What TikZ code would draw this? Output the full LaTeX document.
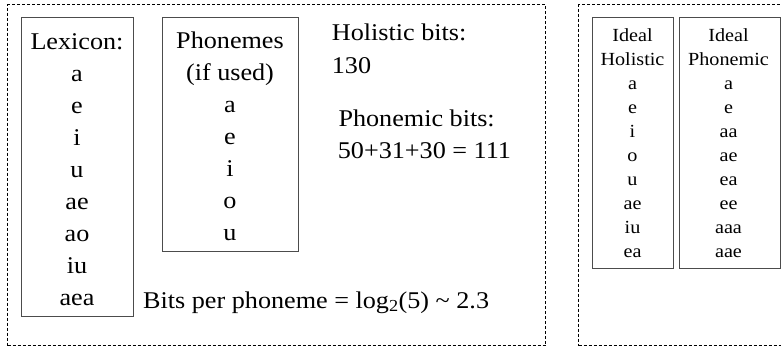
\documentclass[tikz,border=0pt]{standalone}
\usepackage{fontspec}
\setmainfont{Liberation Serif}[FakeStretch=1.09]
\begin{document}
\begin{tikzpicture}[x=1pt,y=-1pt,
  panel/.style={draw=black, dash pattern=on 3pt off 2pt, line width=0.7pt, inner sep=0pt, anchor=north west},
  colbox/.style={draw=black!70, line width=0.9pt, inner sep=0pt, anchor=north west},
  big/.style={font=\fontsize{24}{28}\selectfont, inner sep=0pt},
  small/.style={font=\fontsize{18.5}{22}\selectfont, inner sep=0pt}]
\useasboundingbox (0,0) rectangle (781,347);
% panels
\node[panel, minimum width=538pt, minimum height=341pt] (leftpanel) at (7.3,4.3) {};
\node[panel, minimum width=230pt, minimum height=341pt] (rightpanel) at (578.3,4.3) {};
% column boxes left
\node[colbox, minimum width=112pt, minimum height=299pt] (lexbox) at (21,17) {};
\node[colbox, minimum width=136pt, minimum height=234pt] (phbox) at (162,17) {};
% column boxes right
\node[colbox, minimum width=81.6pt, minimum height=250.4pt] (holbox) at (591.7,17.3) {};
\node[colbox, minimum width=101pt, minimum height=250.4pt] (phonbox) at (679,17.3) {};
% lexicon
\foreach \t [count=\i] in {Lexicon:,a,e,i,u,ae,ao,iu,aea}
  \node[big, anchor=base] (lex\i) at (77,{49.3+(\i-1)*32}) {\t};
% phonemes
\foreach \t [count=\i] in {Phonemes,{(if used)},a,e,i,o,u}
  \node[big, anchor=base] (ph\i) at (230,{48.3+(\i-1)*32.07}) {\t};
% bits texts
\node[big, anchor=base west] (hb1) at (331.7,40.7) {Holistic bits:};
\node[big, anchor=base west] (hb2) at (331.7,73.3) {130};
\node[big, anchor=base west] (pb1) at (338.3,126.7) {Phonemic bits:};
\node[big, anchor=base west] (pb2) at (337.7,158.3) {50+31+30 = 111};
\node[big, anchor=base west] (bpp) at (143,308) {Bits per phoneme = log\textsubscript{2}(5) \textasciitilde{} 2.3};
% ideal holistic
\foreach \t [count=\i] in {Ideal,Holistic,a,e,i,o,u,ae,iu,ea}
  \node[small, anchor=base] (ih\i) at (632.5,{41.7+(\i-1)*24}) {\t};
% ideal phonemic
\foreach \t [count=\i] in {Ideal,Phonemic,a,e,aa,ae,ea,ee,aaa,aae}
  \node[small, anchor=base] (ip\i) at (728.5,{41.7+(\i-1)*24}) {\t};
\end{tikzpicture}
\end{document}
